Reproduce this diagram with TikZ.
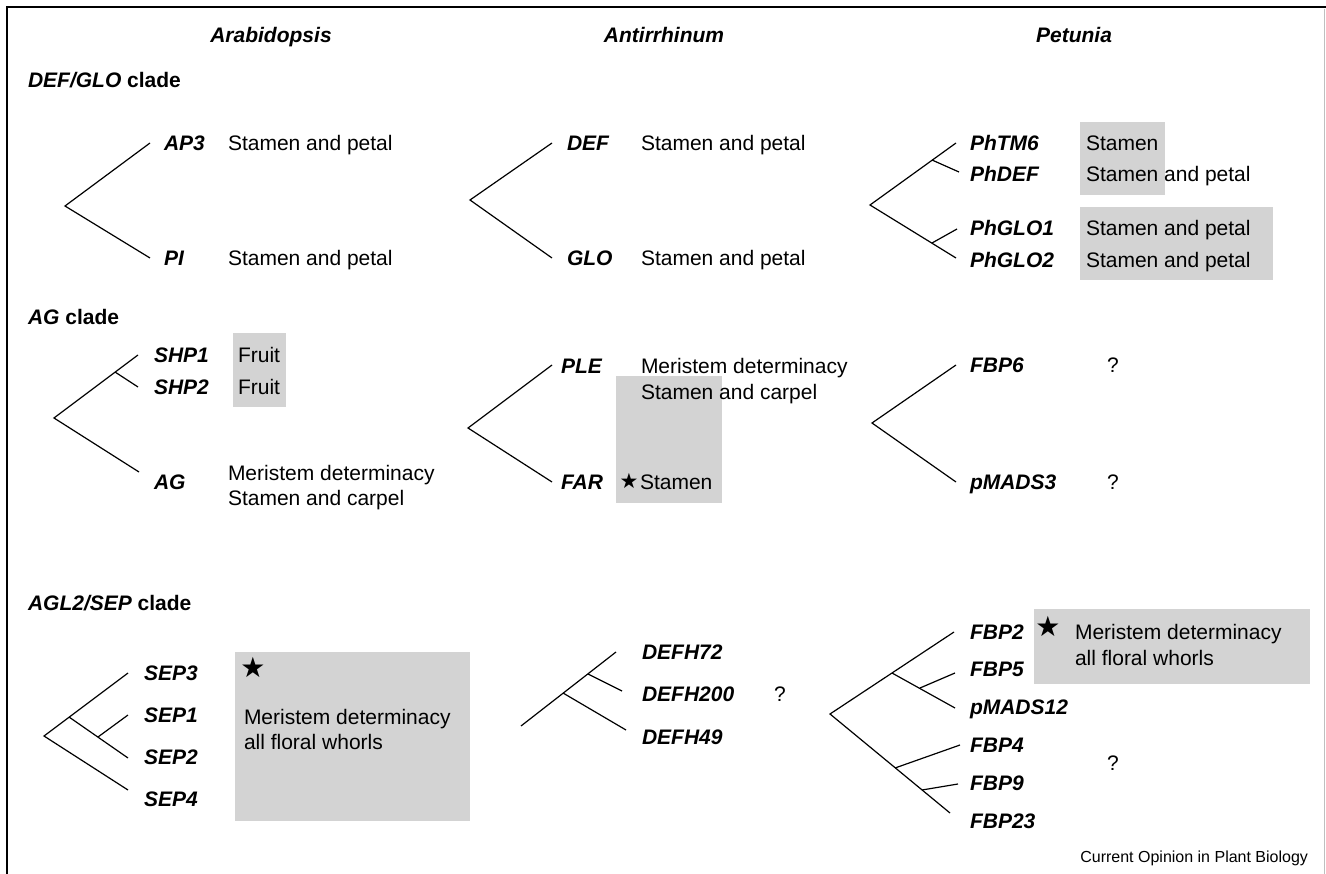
\documentclass[tikz,border=0pt]{standalone}
\usepackage{fontspec}
\setmainfont{Liberation Sans}
\newfontfamily\djv{DejaVu Sans}
\definecolor{boxgray}{RGB}{211,211,211}
\begin{document}
\begin{tikzpicture}[x=1pt,y=-1pt,
  every node/.style={inner sep=0pt, outer sep=0pt},
  txt/.style={anchor=west, font=\fontsize{21}{25}\selectfont, text height=15pt, text depth=0pt},
  gene/.style={anchor=west, font=\fontsize{21}{25}\selectfont\bfseries\itshape, text height=15pt, text depth=0pt},
  hdr/.style={anchor=center, font=\fontsize{21}{25}\selectfont\bfseries\itshape, text height=15pt, text depth=0pt},
  clade/.style={anchor=west, font=\fontsize{21}{25}\selectfont\bfseries, text height=15pt, text depth=0pt},
  qm/.style={anchor=center, font=\fontsize{21}{25}\selectfont, text height=15pt, text depth=0pt},
  bigstar/.style={anchor=center, font=\fontsize{28}{30}\djv},
  smallstar/.style={anchor=center, font=\fontsize{21}{24}\djv},
  br/.style={line width=1.2pt},
  shade/.style={fill=boxgray, draw=none}]
\useasboundingbox (0,0) rectangle (1326,874);
% frame
\draw[line width=2pt] (7,874) -- (7,7) -- (1326,7);
\draw[gray!50, line width=1pt] (1324.5,9) -- (1324.5,874);

% grey boxes
\fill[shade] (1080,122) rectangle (1165,195);
\fill[shade] (1080,207) rectangle (1273,280);
\fill[shade] (233,333) rectangle (286,407);
\fill[shade] (616,376) rectangle (722,503);
\fill[shade] (235,652) rectangle (470,821);
\fill[shade] (1034,609) rectangle (1310,684);

% headers
\node[hdr] (hA) at (271,35) {Arabidopsis};
\node[hdr] (hB) at (664,35) {Antirrhinum};
\node[hdr] (hC) at (1074,35) {Petunia};

\node[clade] (c1) at (28,80) {\itshape DEF/GLO\/\upshape\ clade};
\node[clade] (c2) at (28,317) {\itshape AG\/\upshape\ clade};
\node[clade] (c3) at (28,603) {\itshape AGL2/SEP\/\upshape\ clade};

% ---------------- DEF/GLO clade ----------------
% Arabidopsis
\coordinate (a1r) at (65,206);
\coordinate (a1u) at (150,143);
\coordinate (a1d) at (150,258);
\draw[br] (a1u) -- (a1r) -- (a1d);
\node[gene] (gAP3) at (164,143) {AP3};
\node[gene] (gPI) at (164,258) {PI};
\node[txt] (tAP3) at (228,143) {Stamen and petal};
\node[txt] (tPI) at (228,258) {Stamen and petal};
% Antirrhinum
\coordinate (b1r) at (470,200);
\coordinate (b1u) at (552,143);
\coordinate (b1d) at (552,258);
\draw[br] (b1u) -- (b1r) -- (b1d);
\node[gene] (gDEF) at (567,143) {DEF};
\node[gene] (gGLO) at (567,258) {GLO};
\node[txt] (tDEF) at (641,143) {Stamen and petal};
\node[txt] (tGLO) at (641,258) {Stamen and petal};
% Petunia
\coordinate (p1r) at (870,205);
\coordinate (p1u) at (956,143);
\coordinate (p1un) at (932,160);
\coordinate (p1ud) at (959,172);
\coordinate (p1d) at (956,258);
\coordinate (p1dn) at (932,243);
\coordinate (p1du) at (957,229);
\draw[br] (p1u) -- (p1r) -- (p1d);
\draw[br] (p1un) -- (p1ud);
\draw[br] (p1dn) -- (p1du);
\node[gene] (gTM6) at (970,143) {PhTM6};
\node[gene] (gPhDEF) at (970,174) {PhDEF};
\node[gene] (gGLO1) at (970,228) {PhGLO1};
\node[gene] (gGLO2) at (970,260) {PhGLO2};
\node[txt] (tTM6) at (1086,143) {Stamen};
\node[txt] (tPhDEF) at (1086,174) {Stamen and petal};
\node[txt] (tGLO1) at (1086,228) {Stamen and petal};
\node[txt] (tGLO2) at (1086,260) {Stamen and petal};

% ---------------- AG clade ----------------
% Arabidopsis
\coordinate (a2r) at (54,418);
\coordinate (a2u) at (138,355);
\coordinate (a2un) at (115,372);
\coordinate (a2ud) at (138,387);
\coordinate (a2d) at (139,472);
\draw[br] (a2u) -- (a2r) -- (a2d);
\draw[br] (a2un) -- (a2ud);
\node[gene] (gSHP1) at (154,355) {SHP1};
\node[gene] (gSHP2) at (154,387) {SHP2};
\node[gene] (gAG) at (154,482) {AG};
\node[txt] (tSHP1) at (238,355) {Fruit};
\node[txt] (tSHP2) at (238,387) {Fruit};
\node[txt] (tAG1) at (228,473) {Meristem determinacy};
\node[txt] (tAG2) at (228,498) {Stamen and carpel};
% Antirrhinum
\coordinate (b2r) at (468,428);
\coordinate (b2u) at (552,365);
\coordinate (b2d) at (552,482);
\draw[br] (b2u) -- (b2r) -- (b2d);
\node[gene] (gPLE) at (561,366) {PLE};
\node[gene] (gFAR) at (561,482) {FAR};
\node[txt] (tPLE1) at (641,366) {Meristem determinacy};
\node[txt] (tPLE2) at (641,392) {Stamen and carpel};
\node[smallstar] (sFAR) at (629,481) {★};
\node[txt] (tFAR) at (640,482) {Stamen};
% Petunia
\coordinate (p2r) at (872,423);
\coordinate (p2u) at (956,365);
\coordinate (p2d) at (956,482);
\draw[br] (p2u) -- (p2r) -- (p2d);
\node[gene] (gFBP6) at (970,365) {FBP6};
\node[gene] (gMADS3) at (970,482) {pMADS3};
\node[qm] (qFBP6) at (1113,365) {?};
\node[qm] (qMADS3) at (1113,482) {?};

% ---------------- AGL2/SEP clade ----------------
% Arabidopsis
\coordinate (a3r) at (44,736);
\coordinate (a3e3) at (128,673);
\coordinate (a3n1) at (69,717);
\coordinate (a3e2) at (128,758);
\coordinate (a3n2) at (98,737);
\coordinate (a3e1) at (128,715);
\coordinate (a3e4) at (128,790);
\draw[br] (a3e3) -- (a3r) -- (a3e4);
\draw[br] (a3n1) -- (a3e2);
\draw[br] (a3n2) -- (a3e1);
\node[gene] (gSEP3) at (144,673) {SEP3};
\node[gene] (gSEP1) at (144,715) {SEP1};
\node[gene] (gSEP2) at (144,757) {SEP2};
\node[gene] (gSEP4) at (144,799) {SEP4};
\node[bigstar] (sSEP) at (253,667) {★};
\node[txt] (tSEP1) at (244,717) {Meristem determinacy};
\node[txt] (tSEP2) at (244,742) {all floral whorls};
% Antirrhinum
\coordinate (b3r) at (521,726);
\coordinate (b3e72) at (616,652);
\coordinate (b3n1) at (563,693);
\coordinate (b3e49) at (626,730);
\coordinate (b3n2) at (588,674);
\coordinate (b3e200) at (622,691);
\draw[br] (b3r) -- (b3e72);
\draw[br] (b3n1) -- (b3e49);
\draw[br] (b3n2) -- (b3e200);
\node[gene] (gH72) at (642,652) {DEFH72};
\node[gene] (gH200) at (642,694) {DEFH200};
\node[gene] (gH49) at (642,737) {DEFH49};
\node[qm] (qDEFH) at (780,694) {?};
% Petunia
\coordinate (p3r) at (830,714);
\coordinate (p3e2) at (954,632);
\coordinate (p3n1) at (892,673);
\coordinate (p3e12) at (955,708);
\coordinate (p3n2) at (920,688);
\coordinate (p3e5) at (955,673);
\coordinate (p3e23) at (950,813);
\coordinate (p3n3) at (895,768);
\coordinate (p3e4) at (960,745);
\coordinate (p3n4) at (922,790);
\coordinate (p3e9) at (958,784);
\draw[br] (p3e2) -- (p3r) -- (p3e23);
\draw[br] (p3n1) -- (p3e12);
\draw[br] (p3n2) -- (p3e5);
\draw[br] (p3n3) -- (p3e4);
\draw[br] (p3n4) -- (p3e9);
\node[gene] (gFBP2) at (970,632) {FBP2};
\node[gene] (gFBP5) at (970,669) {FBP5};
\node[gene] (gMADS12) at (970,707) {pMADS12};
\node[gene] (gFBP4) at (970,745) {FBP4};
\node[gene] (gFBP9) at (970,783) {FBP9};
\node[gene] (gFBP23) at (970,821) {FBP23};
\node[bigstar] (sFBP) at (1048,626) {★};
\node[txt] (tFBP1) at (1075,632) {Meristem determinacy};
\node[txt] (tFBP2) at (1075,658) {all floral whorls};
\node[qm] (qFBP) at (1113,763) {?};

\node[anchor=east, font=\fontsize{16}{19}\selectfont, text height=11.5pt, text depth=0pt] (credit) at (1308,857) {Current Opinion in Plant Biology};
\end{tikzpicture}
\end{document}
